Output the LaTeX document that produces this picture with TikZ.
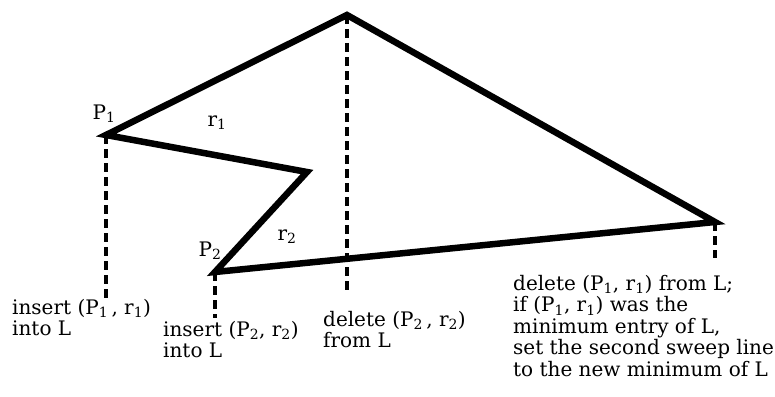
\documentclass[tikz,border=0pt]{standalone}
\usepackage{fontspec}
\setmainfont{DejaVu Serif}
\usetikzlibrary{positioning}

\begin{document}
\begin{tikzpicture}[x=1pt,y=-1pt,
  font=\fontsize{20}{21.5}\selectfont,
  edge/.style={line width=6.5pt,line join=miter},
  sweep/.style={line width=3.5pt,dash pattern=on 9pt off 5pt},
  lbl/.style={inner sep=0pt},
  event/.style={inner sep=0pt,anchor=north west,align=left}]
  \useasboundingbox (0,0) rectangle (775,396);

  % polygon vertices
  \coordinate (p1) at (106,135);
  \coordinate (top) at (347,15);
  \coordinate (rgt) at (715,222);
  \coordinate (p2) at (215,272);
  \coordinate (inn) at (307,172);

  % the polygon
  \draw[edge] (p1) -- (top) -- (rgt) -- (p2) -- (inn) -- cycle;

  % vertex and edge labels
  \node[lbl] (lp1) at (104,114) {P\textsubscript{1}};
  \node[lbl] (lr1) at (217,123) {r\textsubscript{1}};
  \node[lbl] (lp2) at (210,251) {P\textsubscript{2}};
  \node[lbl] (lr2) at (287,237) {r\textsubscript{2}};

  % events on L
  \node[event] (ins1) at (12,299) {insert (P\textsubscript{1}\,, r\textsubscript{1})\\into L};
  \node[event] (ins2) at (163,321) {insert (P\textsubscript{2}, r\textsubscript{2})\\into L};
  \node[event] (del2) at (323,311) {delete (P\textsubscript{2}\,, r\textsubscript{2})\\from L};
  \node[event] (del1) at (513,275) {delete (P\textsubscript{1}, r\textsubscript{1}) from L;\\
    if (P\textsubscript{1}, r\textsubscript{1}) was the\\
    minimum entry of L,\\
    set the second sweep line\\
    to the new minimum of L};

  % sweep lines down from the vertices
  \coordinate (e1) at (106,300);
  \coordinate (e2) at (215,318);
  \coordinate (e3) at (347,290);
  \coordinate (e4) at (715,258);
  \draw[sweep] (p1) -- (e1);
  \draw[sweep] (p2) -- (e2);
  \draw[sweep] (top) -- (e3);
  \draw[sweep] (rgt) -- (e4);
\end{tikzpicture}
\end{document}
